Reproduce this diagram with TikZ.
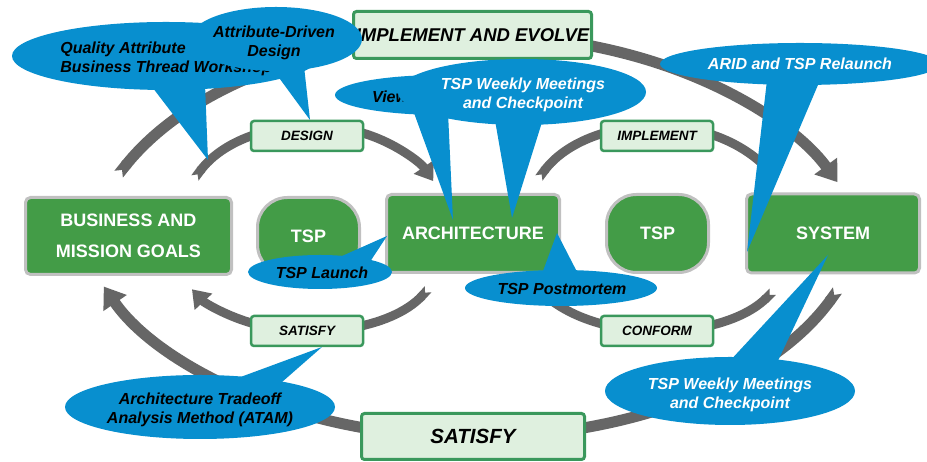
\documentclass[tikz,border=0pt]{standalone}
\usepackage{fontspec}
\setmainfont{Liberation Sans}
\usetikzlibrary{arrows.meta,shapes.geometric}
\definecolor{boxgreen}{RGB}{67,156,71}
\definecolor{boxgray}{RGB}{192,192,192}
\definecolor{lblfill}{RGB}{223,240,223}
\definecolor{lbldraw}{RGB}{58,152,92}
\definecolor{callblue}{RGB}{8,143,207}
\definecolor{arrgray}{RGB}{102,102,102}
\begin{document}
\begin{tikzpicture}[x=1pt,y=1pt,
  gbox/.style={draw=boxgray, line width=3pt, fill=boxgreen, rounded corners=5pt, text=white,
    font=\fontsize{18}{31}\selectfont\bfseries, align=center, inner sep=0pt},
  tspbox/.style={gbox, rounded corners=30pt},
  lbox/.style={draw=lbldraw, line width=2.5pt, fill=lblfill, rounded corners=3pt,
    font=\fontsize{13.5}{16}\selectfont\bfseries\itshape, inner sep=0pt},
  call/.style={ellipse, fill=callblue, inner sep=0pt},
  calltext/.style={inner sep=0pt, align=center, font=\fontsize{16}{19}\selectfont\bfseries\itshape},
  tail/.style={fill=callblue},
  outerarr/.style={draw=arrgray, line width=11pt, {Triangle Cap[reversed]}-{Triangle[width=27pt,length=20pt]}},
  innerarr/.style={draw=arrgray, line width=9pt, {Triangle Cap[reversed]}-{Triangle[width=23pt,length=17pt]}},
  innerline/.style={draw=arrgray, line width=9pt, {Triangle Cap[reversed]}-},
]
\useasboundingbox (0,0) rectangle (927,462);
\fill[white] (0,0) rectangle (927,462);
\clip (0,0) rectangle (927,462);

% gray cycle arrows
\coordinate (ot) at (118.6,287.8);
\draw[outerarr] (ot) arc[start angle=153, end angle=25, x radius=400pt, y radius=255pt];
\coordinate (ob) at (837.4,171.5);
\draw[outerarr] (ob) arc[start angle=-24, end angle=-157, x radius=400pt, y radius=247pt];
\coordinate (itl) at (194.9,284);
\draw[innerarr] (itl) arc[start angle=151, end angle=27, x radius=135pt, y radius=101pt];
\coordinate (itr) at (538.9,284);
\draw[innerline] (itr) arc[start angle=151, end angle=35, x radius=135pt, y radius=101pt];
\coordinate (ibl) at (428.1,172.7);
\draw[innerarr] (ibl) arc[start angle=-29, end angle=-151, x radius=135pt, y radius=81pt];
\coordinate (ibr) at (772.7,170.3);
\draw[innerline] (ibr) arc[start angle=-31, end angle=-148, x radius=135pt, y radius=81pt];

% green boxes
\node[gbox, minimum width=206pt, minimum height=77pt] (biz) at (128.5,226) {BUSINESS AND\\MISSION GOALS};
\node[tspbox, minimum width=102pt, minimum height=77pt] (tspl) at (308.5,226) {TSP};
\node[gbox, minimum width=173pt, minimum height=78pt] (arch) at (473,228.5) {ARCHITECTURE};
\node[tspbox, minimum width=102pt, minimum height=78pt] (tspr) at (657.5,228.5) {TSP};
\node[gbox, minimum width=173pt, minimum height=79pt] (sys) at (833,228.5) {SYSTEM};

% label boxes
\node[lbox, minimum width=112pt, minimum height=30pt] (design) at (307,326) {DESIGN};
\node[lbox, minimum width=112pt, minimum height=30pt] (impl) at (657,326) {IMPLEMENT};
\node[lbox, minimum width=112pt, minimum height=30pt] (sats) at (307,131) {SATISFY};
\node[lbox, minimum width=112pt, minimum height=30pt] (conf) at (657,131) {CONFORM};
\node[lbox, line width=3pt, minimum width=238pt, minimum height=47pt,
  font=\fontsize{18.5}{22}\selectfont\bfseries\itshape] (iae) at (472.5,427) {IMPLEMENT AND EVOLVE};
\node[lbox, line width=3pt, minimum width=223pt, minimum height=46pt,
  font=\fontsize{20.5}{24}\selectfont\bfseries\itshape] (satb) at (473,25.5) {SATISFY};

% callouts
\node[call, minimum width=308pt, minimum height=68pt] (qa) at (166,406) {};
\coordinate (qatip) at (208,302);
\fill[tail] ([xshift=-16pt,yshift=6pt]qa.south) -- (qatip) -- ([xshift=39pt,yshift=6pt]qa.south) -- cycle;
\node[calltext, align=left] (qatext) at ([yshift=-3pt]qa.center) {Quality Attribute\\Business Thread Workshop};

\node[call, minimum width=172pt, minimum height=64pt] (add) at (276,423) {};
\coordinate (addtip) at (310,342);
\fill[tail] ([xshift=-4pt,yshift=3pt]add.south) -- (addtip) -- ([xshift=28pt,yshift=5pt]add.south) -- cycle;
\node[calltext] (addtext) at ([xshift=-2pt,yshift=-3.5pt]add.center) {Attribute-Driven\\Design};

\node[call, minimum width=214pt, minimum height=40pt] (views) at (442,367) {};
\coordinate (viewstip) at (453,242);
\fill[tail] ([xshift=-29pt,yshift=5pt]views.south) -- (viewstip) -- ([xshift=6pt,yshift=3pt]views.south) -- cycle;
\node[calltext, anchor=west] (viewstext) at (372,365) {Views};

\node[call, minimum width=248pt, minimum height=66pt] (tspt) at (522,370) {};
\coordinate (tspttip) at (512,244);
\fill[tail] ([xshift=-27pt,yshift=5pt]tspt.south) -- (tspttip) -- ([xshift=20pt,yshift=3pt]tspt.south) -- cycle;
\node[calltext, text=white] (tspttext) at ([xshift=1pt,yshift=-3pt]tspt.center) {TSP Weekly Meetings\\and Checkpoint};

\node[call, minimum width=280pt, minimum height=42pt] (arid) at (800,398) {};
\coordinate (aridtip) at (747,210);
\fill[tail] ([xshift=-33pt,yshift=5pt]arid.south) -- (aridtip) -- ([xshift=20pt,yshift=5pt]arid.south) -- cycle;
\node[calltext, text=white] (aridtext) at (arid.center) {ARID and TSP Relaunch};

\node[call, minimum width=144pt, minimum height=34pt] (launch) at (320,190) {};
\coordinate (launchtip) at (387,226);
\fill[tail] ([xshift=18pt,yshift=-3pt]launch.north) -- (launchtip) -- ([xshift=50pt,yshift=-7pt]launch.north) -- cycle;
\node[calltext] (launchtext) at ([xshift=2pt,yshift=-1pt]launch.center) {TSP Launch};

\node[call, minimum width=192pt, minimum height=36pt] (pm) at (561,174) {};
\coordinate (pmtip) at (557,229);
\fill[tail] ([xshift=-19pt,yshift=-4pt]pm.north) -- (pmtip) -- ([xshift=17pt,yshift=-4pt]pm.north) -- cycle;
\node[calltext] (pmtext) at ([xshift=1pt,yshift=-1pt]pm.center) {TSP Postmortem};

\node[call, minimum width=270pt, minimum height=64pt] (atam) at (200,55) {};
\coordinate (atamtip) at (322,115);
\fill[tail] ([xshift=33pt,yshift=-5pt]atam.north) -- (atamtip) -- ([xshift=80pt,yshift=-9pt]atam.north) -- cycle;
\node[calltext] (atamtext) at ([yshift=-3pt]atam.center) {Architecture Tradeoff\\Analysis Method (ATAM)};

\node[call, minimum width=250pt, minimum height=68pt] (tspb) at (730,71) {};
\coordinate (tspbtip) at (828,207);
\fill[tail] ([xshift=0pt,yshift=-4pt]tspb.north) -- (tspbtip) -- ([xshift=47pt,yshift=-6pt]tspb.north) -- cycle;
\node[calltext, text=white] (tspbtext) at ([yshift=-3.5pt]tspb.center) {TSP Weekly Meetings\\and Checkpoint};
\end{tikzpicture}
\end{document}
